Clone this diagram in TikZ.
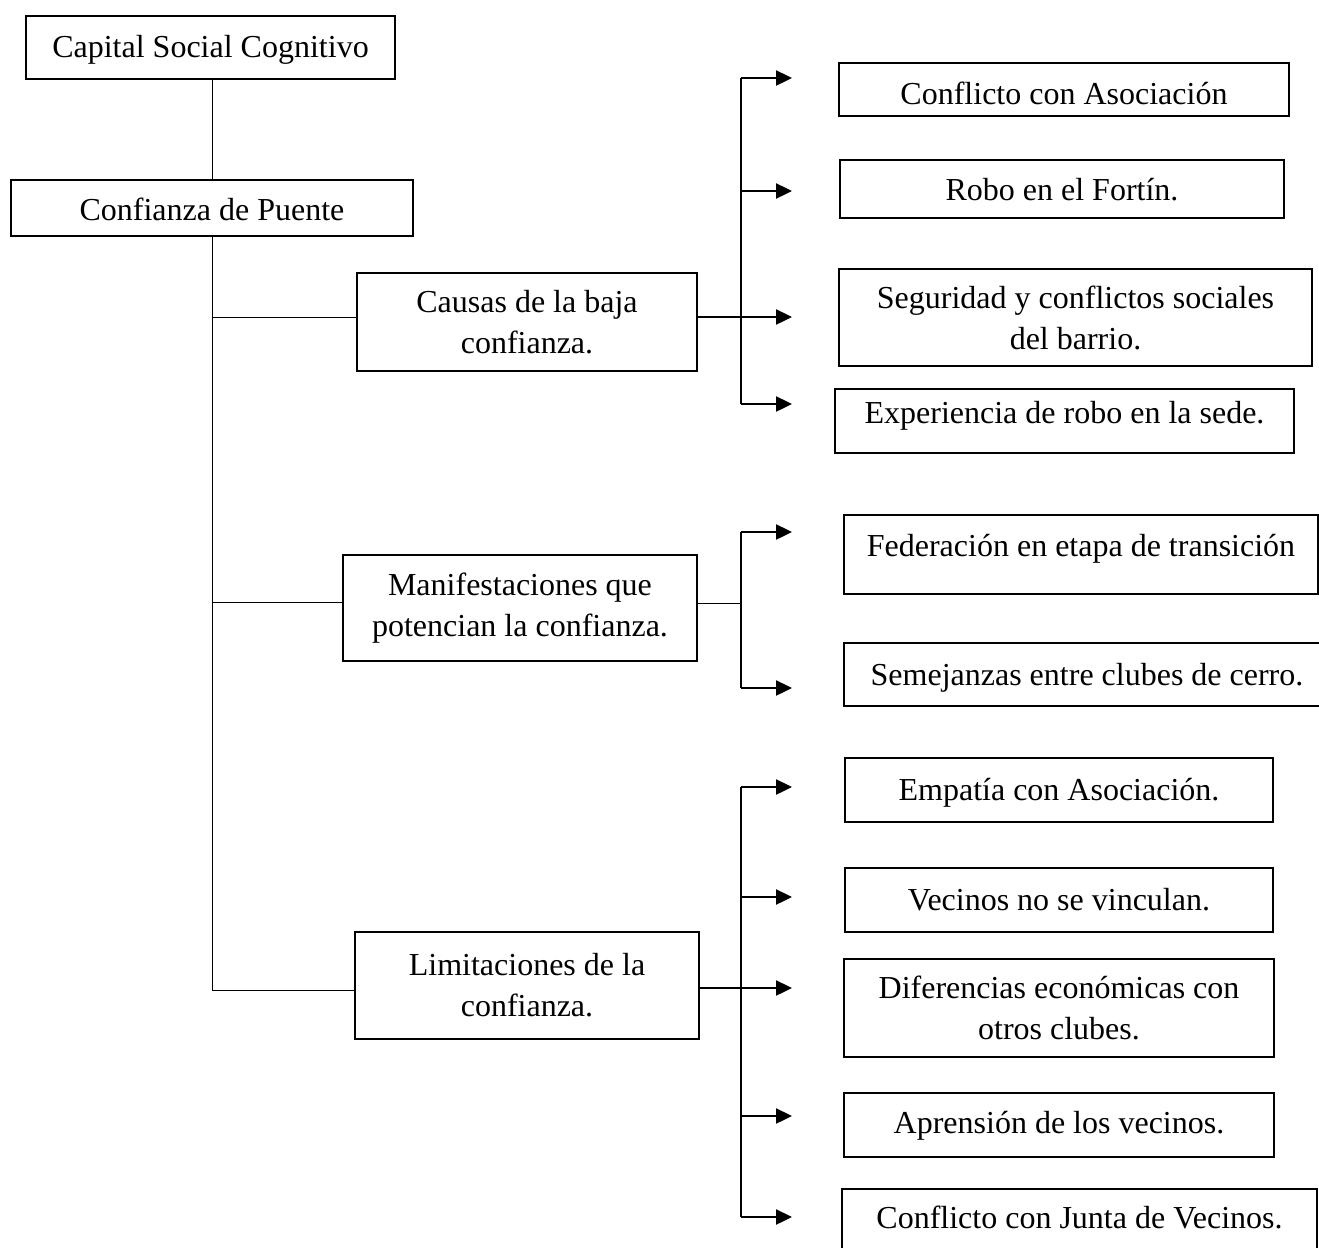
\documentclass[tikz,border=0pt]{standalone}
\usepackage{fontspec}
\setmainfont{Liberation Serif}
\usetikzlibrary{arrows.meta}
\begin{document}
\begin{tikzpicture}[x=0.5pt,y=-0.5pt,
  box/.style={draw,line width=1pt,rectangle,inner sep=0pt,align=center,
    font=\fontsize{16}{20.5}\selectfont},
  % single-line text: baseline sits #1 below the box centre (doubled)
  drop/.style={text height=#1,text depth=0pt},
  trunk/.style={line width=0.5pt},
  bracket/.style={line width=0.65pt},
  feed/.style={line width=1.2pt},
  arrow/.style={line width=1.2pt,-{Triangle[length=8pt,width=7.5pt]}}]
\clip (0,0) rectangle (1319,1248);

% main column
\node[box,drop=9.5pt,minimum width=184.5pt,minimum height=31.5pt] (csc) at (210.5,47.5) {Capital Social Cognitivo};
\node[box,drop=12pt,minimum width=201pt,minimum height=28pt] (cdp) at (212,208) {Confianza de Puente};
\node[box,minimum width=170pt,minimum height=49pt] (causas) at (527,322) {Causas de la baja\\confianza.};
\node[box,minimum width=177pt,minimum height=53pt] (manif) at (520,608) {Manifestaciones que\\potencian la confianza.};
\node[box,minimum width=172pt,minimum height=53.5pt] (limit) at (527,985.5) {Limitaciones de la\\confianza.};

% causes
\node[box,drop=14.5pt,minimum width=225pt,minimum height=26.5pt] (c1) at (1064,89.5) {Conflicto con Asociación};
\node[box,drop=11pt,minimum width=222pt,minimum height=29pt] (c2) at (1062,189) {Robo en el Fortín.};
\node[box,minimum width=236.5pt,minimum height=48.5pt] (c3) at (1075.5,317.5) {Seguridad y conflictos sociales\\del barrio.};
\node[box,drop=2pt,minimum width=229.5pt,minimum height=32pt] (c4) at (1064.5,421) {Experiencia de robo en la sede.};

% manifestations
\node[box,minimum width=237pt,minimum height=0pt,text height=20.5pt,text depth=19pt,anchor=north] (m1) at (1081,514) {Federación en etapa de transición};
\node[box,drop=10.5pt,minimum width=243pt,minimum height=31.5pt] (m2) at (1087,674.5) {Semejanzas entre clubes de cerro.};

% limitations
\node[box,drop=10pt,minimum width=214pt,minimum height=32pt] (l1) at (1059,790) {Empatía con Asociación.};
\node[box,drop=10pt,minimum width=214pt,minimum height=32pt] (l2) at (1059,900) {Vecinos no se vinculan.};
\node[box,minimum width=215pt,minimum height=49pt] (l3) at (1059,1008) {Diferencias económicas con\\otros clubes.};
\node[box,drop=8pt,minimum width=215pt,minimum height=32pt] (l4) at (1059,1125) {Aprensión de los vecinos.};
\node[box,drop=7.5pt,minimum width=237.5pt,minimum height=31.5pt] (l5) at (1079.5,1220.5) {Conflicto con Junta de Vecinos.};

% trunk
\coordinate (t1) at (212,317);
\coordinate (t2) at (212,602);
\coordinate (t3) at (212,990);
\draw[trunk] (cdp.north |- csc.south) -- (cdp.north);
\draw[trunk] (cdp.south) -- (t3);
\draw[trunk] (t1) -- (causas.west |- t1);
\draw[trunk] (t2) -- (manif.west |- t2);
\draw[trunk] (t3) -- (limit.west |- t3);

% bracket of causes
\foreach \n/\y in {1/78,2/191,3/317,4/404}{
  \coordinate (ca\n) at (741,\y);
  \coordinate (ta\n) at (792,\y);
}
\draw[bracket] (ca1) -- (ca4);
\draw[feed] (causas.east |- ca3) -- (ca3);
\foreach \n in {1,...,4} \draw[arrow] (ca\n) -- (ta\n);

% bracket of manifestations
\foreach \n/\y in {1/532,2/688}{
  \coordinate (cm\n) at (741,\y);
  \coordinate (tm\n) at (792,\y);
}
\coordinate (cm0) at (741,603);
\draw[bracket] (cm1) -- (cm2);
\draw[trunk] (manif.east |- cm0) -- (cm0);
\foreach \n in {1,2} \draw[arrow] (cm\n) -- (tm\n);

% bracket of limitations
\foreach \n/\y in {1/787,2/897,3/988,4/1116,5/1217}{
  \coordinate (cl\n) at (741,\y);
  \coordinate (tl\n) at (792,\y);
}
\draw[bracket] (cl1) -- (cl5);
\draw[feed] (limit.east |- cl3) -- (cl3);
\foreach \n in {1,...,5} \draw[arrow] (cl\n) -- (tl\n);
\end{tikzpicture}
\end{document}
